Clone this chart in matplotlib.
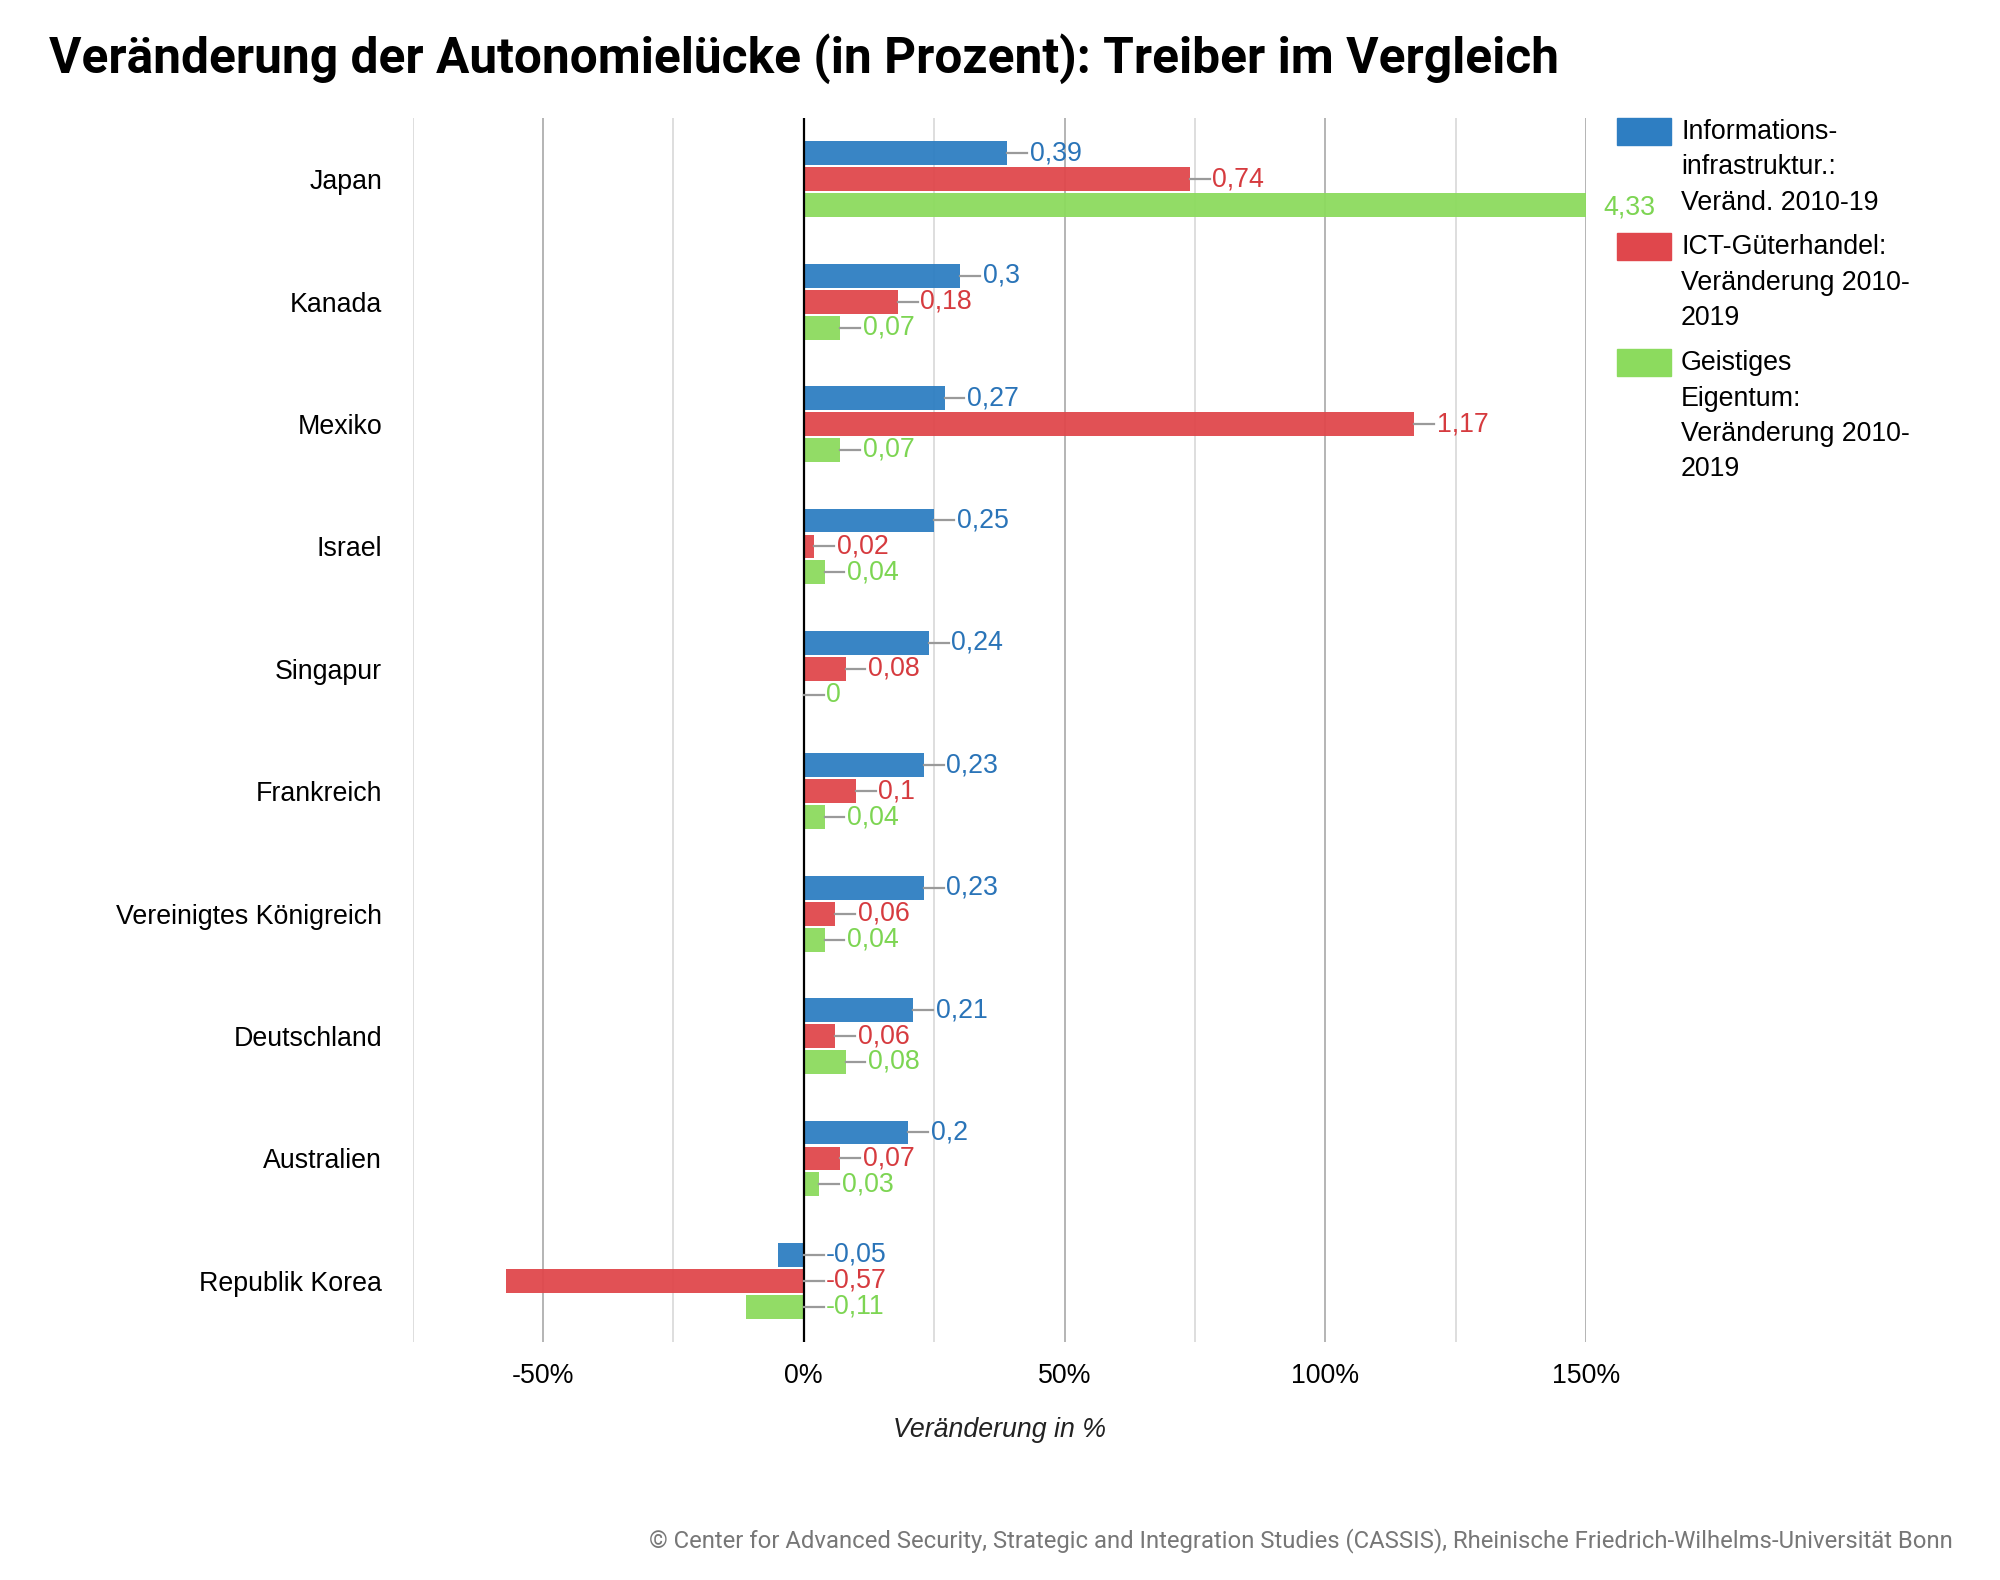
import numpy as np
import matplotlib
matplotlib.use('Agg')
from matplotlib import pyplot as plt
from matplotlib.patches import Rectangle

countries = ["Japan", "Kanada", "Mexiko", "Israel", "Singapur", "Frankreich",
             "Vereinigtes Königreich", "Deutschland", "Australien", "Republik Korea"]
info_infra = [0.39, 0.30, 0.27, 0.25, 0.24, 0.23, 0.23, 0.21, 0.20, -0.05]
ict_trade = [0.74, 0.18, 1.17, 0.02, 0.08, 0.10, 0.06, 0.06, 0.07, -0.57]
intel_prop = [4.33, 0.07, 0.07, 0.04, 0.00, 0.04, 0.04, 0.08, 0.03, -0.11]
series_names = [["Informations-", "infrastruktur.:", "Veränd. 2010-19"],
                ["ICT-Güterhandel:", "Veränderung 2010-", "2019"],
                ["Geistiges", "Eigentum:", "Veränderung 2010-", "2019"]]
xticks = [-50, 0, 50, 100, 150]
xticklabels = ["-50%", "0%", "50%", "100%", "150%"]

bar_cols = ["#2e7ec2", "#e0474c", "#8cdb5e"]
txt_cols = ["#2a74b8", "#d63b3f", "#7dd553"]
LAB = "Liberation Sans"
FS = 19.3

fig = plt.figure(figsize=(20, 15.8), dpi=100)
ax = fig.add_axes([0.2063, 0.1506, 0.5868, 0.7747])
xmin, xmax = -75, 150
ax.set_xlim(xmin, xmax)
ax.set_ylim(9.5, -0.5)

# grid
for g in range(-75, 151, 25):
    if g == 0:
        continue
    c = "#b4b4b4" if g % 50 == 0 else "#dedede"
    ax.axvline(g, color=c, lw=1.4, zorder=0)
ax.axvline(0, color="black", lw=1.6, zorder=3)

y = np.arange(len(countries))
off = 0.212
h = 0.195
for k, vals in enumerate([info_infra, ict_trade, intel_prop]):
    pos = y + (k - 1) * off
    x = np.array(vals) * 100
    ax.barh(pos, x, height=h, color=bar_cols[k], alpha=0.95, zorder=2)
    for p, v in zip(pos, vals):
        lab = f"{v:g}".replace(".", ",")
        if v * 100 > xmax:
            ax.text(xmax + 3.2, p + 0.02, lab, color=txt_cols[k], fontsize=FS,
                    family=LAB, va="center", ha="left", clip_on=False)
            continue
        start = max(v * 100, 0)
        ax.plot([start, start + 3.8], [p, p], color="#9a9a9a", lw=1.6,
                zorder=3, clip_on=False)
        ax.text(start + 4.3, p, lab, color=txt_cols[k], fontsize=FS,
                family=LAB, va="center", ha="left", zorder=4)

for s in ax.spines.values():
    s.set_visible(False)
ax.set_yticks(y)
ax.set_yticklabels(countries, fontsize=FS, family=LAB)
ax.tick_params(axis="y", length=0, pad=22)
ax.set_xticks(xticks)
ax.set_xticklabels(xticklabels, fontsize=FS, family=LAB)
ax.tick_params(axis="x", length=0, pad=15)
ax.set_xlabel("Veränderung in %", fontsize=FS, family=LAB, style="italic",
              color="#222222", labelpad=20)

# legend
W, H = 2000.0, 1580.0
tops = [118, 233, 349]
for k in range(3):
    t = tops[k]
    fig.patches.append(Rectangle((1617 / W, 1 - (t + 27) / H), 54 / W, 27 / H,
                                 transform=fig.transFigure, color=bar_cols[k],
                                 figure=fig))
    for j, line in enumerate(series_names[k]):
        fig.text(1681 / W, 1 - (t + 14 + j * 35.5) / H, line, fontsize=FS,
                 family=LAB, va="center", ha="left")

fig.text(49 / W, 1 - 59 / H,
         "Veränderung der Autonomielücke (in Prozent): Treiber im Vergleich",
         fontsize=35.7, family="Roboto", weight="bold", va="center", ha="left")
fig.text(1953 / W, 1 - 1541 / H,
         "© Center for Advanced Security, Strategic and Integration Studies (CASSIS), "
         "Rheinische Friedrich-Wilhelms-Universität Bonn",
         fontsize=17.2, family="Roboto", color="#777777", va="center", ha="right")

fig.savefig("out.png", dpi=100, facecolor="white")
